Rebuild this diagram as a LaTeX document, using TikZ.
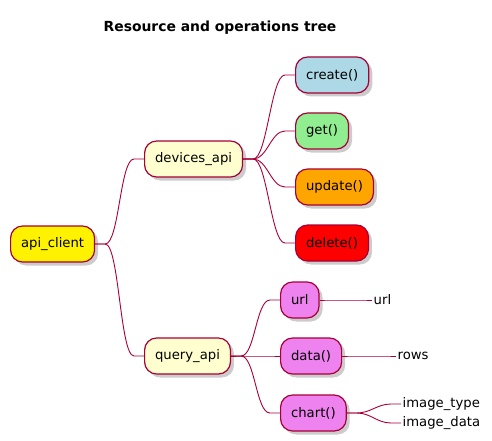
\documentclass[tikz,border=0pt]{standalone}
\usepackage{fontspec}
\setmainfont{DejaVu Sans}
\usetikzlibrary{shadows}
\definecolor{edgered}{HTML}{A80036}
\definecolor{paleyellow}{HTML}{FEFECE}
\definecolor{lblue}{HTML}{ADD8E6}
\definecolor{lgreen}{HTML}{90EE90}
\definecolor{dorange}{HTML}{FFA500}
\definecolor{violetp}{HTML}{EE82EE}
\tikzset{
  topic/.style={draw=edgered, line width=1.2pt, rounded corners=12pt, anchor=west,
    minimum height=36pt, inner xsep=10.5pt, font=\fontsize{13.2}{15}\selectfont,
    drop shadow={shadow xshift=3.5pt, shadow yshift=-3.5pt, opacity=0.4}},
  leaf/.style={anchor=west, inner xsep=1.5pt, inner ysep=0pt, font=\fontsize{13.2}{15}\selectfont},
  branch/.style={edgered, line width=0.9pt,
    to path={-- ++(10pt,0) .. controls +(14pt,0) and +(-14pt,0) .. ([xshift=-10pt]\tikztotarget) -- (\tikztotarget)}}
}
\begin{document}
\begin{tikzpicture}[x=1pt, y=-1pt]
  \useasboundingbox (0,0) rectangle (492,441);
  \node[font=\bfseries\fontsize{13.9}{16}\selectfont] (title) at (220, 28) {Resource and operations tree};
  \node[topic, fill=yellow] (client) at (10, 244) {api\_client};
  \node[topic, fill=paleyellow] (devices) at (144, 159) {devices\_api};
  \node[topic, fill=paleyellow] (query) at (144, 356) {query\_api};
  \node[topic, fill=lblue] (create) at (295, 75) {create()};
  \node[topic, fill=lgreen] (get) at (295, 131) {get()};
  \node[topic, fill=dorange] (update) at (295, 187) {update()};
  \node[topic, fill=red] (delete) at (295, 243) {delete()};
  \node[topic, fill=violetp] (url) at (280, 300) {url};
  \node[topic, fill=violetp] (data) at (280, 356) {data()};
  \node[topic, fill=violetp] (chart) at (280, 413) {chart()};
  \node[leaf] (urlval) at (372, 300) {url};
  \node[leaf] (rows) at (396, 356) {rows};
  \node[leaf] (imgtype) at (401, 404) {image\_type};
  \node[leaf] (imgdata) at (401, 423) {image\_data};
  \draw[branch] (client.east) to (devices.west);
  \draw[branch] (client.east) to (query.west);
  \draw[branch] (devices.east) to (create.west);
  \draw[branch] (devices.east) to (get.west);
  \draw[branch] (devices.east) to (update.west);
  \draw[branch] (devices.east) to (delete.west);
  \draw[branch] (query.east) to (url.west);
  \draw[branch] (query.east) to (data.west);
  \draw[branch] (query.east) to (chart.west);
  \draw[branch] (url.east) to (urlval.west);
  \draw[branch] (data.east) to (rows.west);
  \draw[branch] (chart.east) to (imgtype.west);
  \draw[branch] (chart.east) to (imgdata.west);
\end{tikzpicture}
\end{document}
